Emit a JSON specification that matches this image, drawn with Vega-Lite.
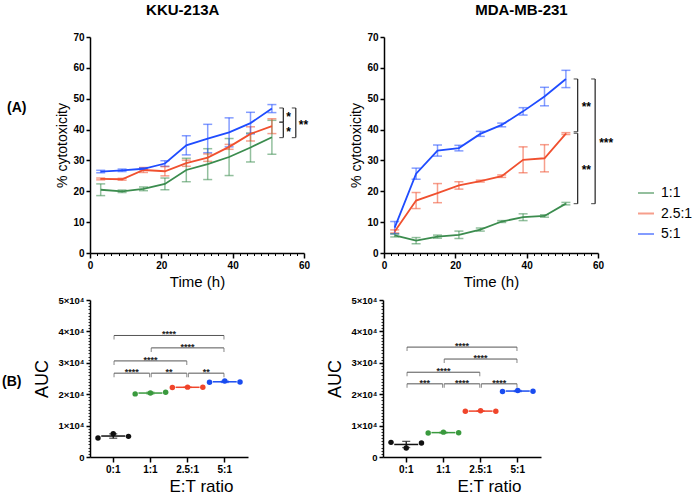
{
  "$schema": "https://vega.github.io/schema/vega-lite/v6.json",
  "background": "white",
  "padding": {"left": 2, "top": 3, "right": 0, "bottom": 8},
  "config": {
    "font": "Liberation Sans",
    "view": {"stroke": null},
    "axis": {
      "grid": false,
      "domainColor": "#000000",
      "domainWidth": 1.5,
      "tickColor": "#000000",
      "tickWidth": 1.5,
      "labelColor": "#000000",
      "labelFont": "Liberation Sans",
      "labelFontWeight": "bold",
      "titleColor": "#000000",
      "titleFont": "Liberation Sans",
      "titleFontWeight": "normal"
    },
    "title": {"font": "Liberation Sans", "color": "#000000"}
  },
  "datasets": {
    "kku": [
      {"t": 3, "ratio": "1:1", "mean": 20.5, "sd": 1.9},
      {"t": 9, "ratio": "1:1", "mean": 20.0, "sd": 0.4},
      {"t": 15, "ratio": "1:1", "mean": 20.8, "sd": 0.6},
      {"t": 21, "ratio": "1:1", "mean": 22.4, "sd": 1.9},
      {"t": 27, "ratio": "1:1", "mean": 26.9, "sd": 3.8},
      {"t": 33, "ratio": "1:1", "mean": 28.8, "sd": 5.0},
      {"t": 39, "ratio": "1:1", "mean": 31.1, "sd": 6.0},
      {"t": 45, "ratio": "1:1", "mean": 34.2, "sd": 4.7},
      {"t": 51, "ratio": "1:1", "mean": 37.5, "sd": 5.5},
      {"t": 3, "ratio": "2.5:1", "mean": 24.0, "sd": 0.3},
      {"t": 9, "ratio": "2.5:1", "mean": 23.9, "sd": 0.3},
      {"t": 15, "ratio": "2.5:1", "mean": 26.9, "sd": 0.8},
      {"t": 21, "ratio": "2.5:1", "mean": 26.5, "sd": 1.5},
      {"t": 27, "ratio": "2.5:1", "mean": 29.1, "sd": 1.0},
      {"t": 33, "ratio": "2.5:1", "mean": 30.9, "sd": 1.2},
      {"t": 39, "ratio": "2.5:1", "mean": 34.4, "sd": 0.8},
      {"t": 45, "ratio": "2.5:1", "mean": 38.6, "sd": 2.3},
      {"t": 51, "ratio": "2.5:1", "mean": 41.1, "sd": 2.4},
      {"t": 3, "ratio": "5:1", "mean": 26.4, "sd": 0.4},
      {"t": 9, "ratio": "5:1", "mean": 26.8, "sd": 0.4},
      {"t": 15, "ratio": "5:1", "mean": 27.3, "sd": 0.3},
      {"t": 21, "ratio": "5:1", "mean": 29.0, "sd": 0.9},
      {"t": 27, "ratio": "5:1", "mean": 34.9, "sd": 3.1},
      {"t": 33, "ratio": "5:1", "mean": 37.1, "sd": 4.6},
      {"t": 39, "ratio": "5:1", "mean": 39.1, "sd": 4.7},
      {"t": 45, "ratio": "5:1", "mean": 42.1, "sd": 3.5},
      {"t": 51, "ratio": "5:1", "mean": 46.8, "sd": 1.3}
    ],
    "mda": [
      {"t": 3, "ratio": "1:1", "mean": 5.7, "sd": 0.5},
      {"t": 9, "ratio": "1:1", "mean": 4.0, "sd": 1.0},
      {"t": 15, "ratio": "1:1", "mean": 5.3, "sd": 0.5},
      {"t": 21, "ratio": "1:1", "mean": 5.9, "sd": 1.2},
      {"t": 27, "ratio": "1:1", "mean": 7.6, "sd": 0.5},
      {"t": 33, "ratio": "1:1", "mean": 10.2, "sd": 0.3},
      {"t": 39, "ratio": "1:1", "mean": 11.6, "sd": 1.1},
      {"t": 45, "ratio": "1:1", "mean": 12.0, "sd": 0.4},
      {"t": 51, "ratio": "1:1", "mean": 16.0, "sd": 0.4},
      {"t": 3, "ratio": "2.5:1", "mean": 7.0, "sd": 0.5},
      {"t": 9, "ratio": "2.5:1", "mean": 17.0, "sd": 2.6},
      {"t": 15, "ratio": "2.5:1", "mean": 19.4, "sd": 3.1},
      {"t": 21, "ratio": "2.5:1", "mean": 21.9, "sd": 1.2},
      {"t": 27, "ratio": "2.5:1", "mean": 23.3, "sd": 0.3},
      {"t": 33, "ratio": "2.5:1", "mean": 24.9, "sd": 0.4},
      {"t": 39, "ratio": "2.5:1", "mean": 30.2, "sd": 4.2},
      {"t": 45, "ratio": "2.5:1", "mean": 30.7, "sd": 4.4},
      {"t": 51, "ratio": "2.5:1", "mean": 38.7, "sd": 0.3},
      {"t": 3, "ratio": "5:1", "mean": 8.2, "sd": 2.0},
      {"t": 9, "ratio": "5:1", "mean": 25.7, "sd": 1.8},
      {"t": 15, "ratio": "5:1", "mean": 33.2, "sd": 1.8},
      {"t": 21, "ratio": "5:1", "mean": 34.0, "sd": 0.9},
      {"t": 27, "ratio": "5:1", "mean": 38.6, "sd": 0.8},
      {"t": 33, "ratio": "5:1", "mean": 41.5, "sd": 0.6},
      {"t": 39, "ratio": "5:1", "mean": 45.9, "sd": 1.2},
      {"t": 45, "ratio": "5:1", "mean": 50.7, "sd": 3.0},
      {"t": 51, "ratio": "5:1", "mean": 56.4, "sd": 2.8}
    ],
    "kku_sig": [
      {"t": 54.2, "top": 47.0, "bottom": 42.4, "label": "*"},
      {"t": 54.2, "top": 42.4, "bottom": 37.4, "label": "*"},
      {"t": 57.7, "top": 47.0, "bottom": 37.4, "label": "**"}
    ],
    "mda_sig": [
      {"t": 54.3, "top": 56.4, "bottom": 39.3, "label": "**"},
      {"t": 54.3, "top": 38.8, "bottom": 16.0, "label": "**"},
      {"t": 59.2, "top": 56.4, "bottom": 16.0, "label": "***"}
    ],
    "auc_kku": [
      {"ratio": "0:1", "rep": 1, "auc": 6040},
      {"ratio": "0:1", "rep": 2, "auc": 7420},
      {"ratio": "0:1", "rep": 3, "auc": 6570},
      {"ratio": "1:1", "rep": 1, "auc": 20100},
      {"ratio": "1:1", "rep": 2, "auc": 20350},
      {"ratio": "1:1", "rep": 3, "auc": 20650},
      {"ratio": "2.5:1", "rep": 1, "auc": 22150},
      {"ratio": "2.5:1", "rep": 2, "auc": 22250},
      {"ratio": "2.5:1", "rep": 3, "auc": 22200},
      {"ratio": "5:1", "rep": 1, "auc": 23800},
      {"ratio": "5:1", "rep": 2, "auc": 24200},
      {"ratio": "5:1", "rep": 3, "auc": 23850}
    ],
    "auc_mda": [
      {"ratio": "0:1", "rep": 1, "auc": 4660},
      {"ratio": "0:1", "rep": 2, "auc": 2860},
      {"ratio": "0:1", "rep": 3, "auc": 4450},
      {"ratio": "1:1", "rep": 1, "auc": 7640},
      {"ratio": "1:1", "rep": 2, "auc": 7920},
      {"ratio": "1:1", "rep": 3, "auc": 7730},
      {"ratio": "2.5:1", "rep": 1, "auc": 14550},
      {"ratio": "2.5:1", "rep": 2, "auc": 14700},
      {"ratio": "2.5:1", "rep": 3, "auc": 14600},
      {"ratio": "5:1", "rep": 1, "auc": 20850},
      {"ratio": "5:1", "rep": 2, "auc": 21200},
      {"ratio": "5:1", "rep": 3, "auc": 20950}
    ],
    "auc_kku_sig": [
      {"from": "0:1", "to": "5:1", "level": 38700, "label": "****"},
      {"from": "1:1", "to": "5:1", "level": 34750, "label": "****"},
      {"from": "0:1", "to": "2.5:1", "level": 30600, "label": "****"},
      {"from": "0:1", "to": "1:1", "level": 26700, "label": "****"},
      {"from": "1:1", "to": "2.5:1", "level": 26700, "label": "**"},
      {"from": "2.5:1", "to": "5:1", "level": 26700, "label": "**"}
    ],
    "auc_mda_sig": [
      {"from": "0:1", "to": "5:1", "level": 35000, "label": "****"},
      {"from": "1:1", "to": "5:1", "level": 31200, "label": "****"},
      {"from": "0:1", "to": "2.5:1", "level": 27000, "label": "****"},
      {"from": "0:1", "to": "1:1", "level": 23300, "label": "***"},
      {"from": "1:1", "to": "2.5:1", "level": 23300, "label": "****"},
      {"from": "2.5:1", "to": "5:1", "level": 23300, "label": "****"}
    ]
  },
  "spacing": 6,
  "resolve": {"scale": {"color": "independent"}, "legend": {"color": "independent"}},
  "vconcat": [
    {
      "title": {"text": "(A)", "orient": "left", "angle": 0, "align": "right", "baseline": "middle", "anchor": "middle", "fontSize": 14, "fontWeight": "bold", "offset": 10, "dy": -38},
      "bounds": "flush",
      "spacing": 80,
      "resolve": {"legend": {"color": "independent"}},
      "hconcat": [
        {
          "title": {"text": "KKU-213A", "fontSize": 15, "fontWeight": "bold", "frame": "bounds", "offset": 14},
          "width": 214,
          "height": 216,
          "resolve": {"axis": {"x": "independent", "y": "independent"}},
          "layer": [
            {
              "data": {"name": "kku"},
              "mark": {"type": "errorbar", "ticks": {"size": 9}, "thickness": 1.5, "opacity": 0.55},
              "encoding": {
                "x": {"field": "t", "type": "quantitative", "scale": {"domain": [0, 60], "nice": false}, "axis": null},
                "y": {"field": "mean", "type": "quantitative", "scale": {"domain": [0, 70], "nice": false}, "axis": null},
                "yError": {"field": "sd"},
                "color": {"field": "ratio", "type": "nominal", "scale": {"domain": ["1:1", "2.5:1", "5:1"], "range": ["#3b8c4e", "#f0502f", "#1f4cff"]}, "legend": null}
              }
            },
            {
              "data": {"name": "kku"},
              "mark": {"type": "line", "strokeWidth": 1.8},
              "encoding": {
                "x": {"field": "t", "type": "quantitative", "scale": {"domain": [0, 60], "nice": false},
                      "axis": {"orient": "bottom", "tickCount": 30, "labelExpr": "datum.value % 20 === 0 ? datum.label : ''", "labelOverlap": false, "labelFlush": false,
                               "tickSize": {"condition": {"test": "datum.value % 20 === 0", "value": 5}, "value": 2.5},
                               "tickWidth": {"condition": {"test": "datum.value % 20 === 0", "value": 1.5}, "value": 1},
                               "title": "Time (h)", "titleFontSize": 15, "labelFontSize": 10, "titlePadding": 4}},
                "y": {"field": "mean", "type": "quantitative", "scale": {"domain": [0, 70], "nice": false},
                      "axis": {"orient": "left", "values": [0, 10, 20, 30, 40, 50, 60, 70], "title": "% cytotoxicity", "titleFontSize": 14, "labelFontSize": 10, "tickSize": 4, "titlePadding": 3}},
                "color": {"field": "ratio", "type": "nominal", "scale": {"domain": ["1:1", "2.5:1", "5:1"], "range": ["#3b8c4e", "#f0502f", "#1f4cff"]}, "legend": null}
              }
            },
            {
              "data": {"name": "kku_sig"},
              "mark": {"type": "rule", "color": "#222222", "strokeWidth": 1.2},
              "encoding": {
                "x": {"field": "t", "type": "quantitative", "scale": {"domain": [0, 60], "nice": false}, "axis": null},
                "y": {"field": "top", "type": "quantitative", "scale": {"domain": [0, 70], "nice": false}, "axis": null},
                "y2": {"field": "bottom"}
              }
            },
            {
              "data": {"name": "kku_sig"},
              "mark": {"type": "tick", "orient": "horizontal", "size": 4, "thickness": 1.2, "xOffset": -2, "color": "#222222"},
              "encoding": {
                "x": {"field": "t", "type": "quantitative", "scale": {"domain": [0, 60], "nice": false}, "axis": null},
                "y": {"field": "top", "type": "quantitative", "scale": {"domain": [0, 70], "nice": false}, "axis": null}
              }
            },
            {
              "data": {"name": "kku_sig"},
              "mark": {"type": "tick", "orient": "horizontal", "size": 4, "thickness": 1.2, "xOffset": -2, "color": "#222222"},
              "encoding": {
                "x": {"field": "t", "type": "quantitative", "scale": {"domain": [0, 60], "nice": false}, "axis": null},
                "y": {"field": "bottom", "type": "quantitative", "scale": {"domain": [0, 70], "nice": false}, "axis": null}
              }
            },
            {
              "data": {"name": "kku_sig"},
              "transform": [{"calculate": "(datum.top + datum.bottom) / 2", "as": "mid"}],
              "mark": {"type": "text", "align": "left", "baseline": "alphabetic", "dx": 3, "dy": 6, "fontSize": 12, "fontWeight": "bold", "color": "#000000"},
              "encoding": {
                "x": {"field": "t", "type": "quantitative", "scale": {"domain": [0, 60], "nice": false}, "axis": null},
                "y": {"field": "mid", "type": "quantitative", "scale": {"domain": [0, 70], "nice": false}, "axis": null},
                "text": {"field": "label"}
              }
            }
          ]
        },
        {
          "title": {"text": "MDA-MB-231", "fontSize": 15, "fontWeight": "bold", "frame": "bounds", "offset": 14},
          "width": 214,
          "height": 216,
          "resolve": {"axis": {"x": "independent", "y": "independent"}},
          "layer": [
            {
              "data": {"name": "mda"},
              "mark": {"type": "errorbar", "ticks": {"size": 9}, "thickness": 1.5, "opacity": 0.55},
              "encoding": {
                "x": {"field": "t", "type": "quantitative", "scale": {"domain": [0, 60], "nice": false}, "axis": null},
                "y": {"field": "mean", "type": "quantitative", "scale": {"domain": [0, 70], "nice": false}, "axis": null},
                "yError": {"field": "sd"},
                "color": {"field": "ratio", "type": "nominal", "scale": {"domain": ["1:1", "2.5:1", "5:1"], "range": ["#3b8c4e", "#f0502f", "#1f4cff"]}}
              }
            },
            {
              "data": {"name": "mda"},
              "mark": {"type": "line", "strokeWidth": 1.8},
              "encoding": {
                "x": {"field": "t", "type": "quantitative", "scale": {"domain": [0, 60], "nice": false},
                      "axis": {"orient": "bottom", "tickCount": 30, "labelExpr": "datum.value % 20 === 0 ? datum.label : ''", "labelOverlap": false, "labelFlush": false,
                               "tickSize": {"condition": {"test": "datum.value % 20 === 0", "value": 5}, "value": 2.5},
                               "tickWidth": {"condition": {"test": "datum.value % 20 === 0", "value": 1.5}, "value": 1},
                               "title": "Time (h)", "titleFontSize": 15, "labelFontSize": 10, "titlePadding": 4}},
                "y": {"field": "mean", "type": "quantitative", "scale": {"domain": [0, 70], "nice": false},
                      "axis": {"orient": "left", "values": [0, 10, 20, 30, 40, 50, 60, 70], "title": "% cytotoxicity", "titleFontSize": 14, "labelFontSize": 10, "tickSize": 4, "titlePadding": 3}},
                "color": {"field": "ratio", "type": "nominal", "scale": {"domain": ["1:1", "2.5:1", "5:1"], "range": ["#3b8c4e", "#f0502f", "#1f4cff"]},
                          "legend": {"orient": "none", "legendX": 253, "legendY": 147, "title": null, "padding": 0, "symbolType": "stroke", "symbolStrokeWidth": 2, "symbolSize": 256, "symbolOpacity": 1, "labelFontSize": 14, "labelFont": "Liberation Sans", "labelColor": "#000000", "labelOffset": 6, "rowPadding": 4.5}}
              }
            },
            {
              "data": {"name": "mda_sig"},
              "mark": {"type": "rule", "color": "#222222", "strokeWidth": 1.2},
              "encoding": {
                "x": {"field": "t", "type": "quantitative", "scale": {"domain": [0, 60], "nice": false}, "axis": null},
                "y": {"field": "top", "type": "quantitative", "scale": {"domain": [0, 70], "nice": false}, "axis": null},
                "y2": {"field": "bottom"}
              }
            },
            {
              "data": {"name": "mda_sig"},
              "mark": {"type": "tick", "orient": "horizontal", "size": 4, "thickness": 1.2, "xOffset": -2, "color": "#222222"},
              "encoding": {
                "x": {"field": "t", "type": "quantitative", "scale": {"domain": [0, 60], "nice": false}, "axis": null},
                "y": {"field": "top", "type": "quantitative", "scale": {"domain": [0, 70], "nice": false}, "axis": null}
              }
            },
            {
              "data": {"name": "mda_sig"},
              "mark": {"type": "tick", "orient": "horizontal", "size": 4, "thickness": 1.2, "xOffset": -2, "color": "#222222"},
              "encoding": {
                "x": {"field": "t", "type": "quantitative", "scale": {"domain": [0, 60], "nice": false}, "axis": null},
                "y": {"field": "bottom", "type": "quantitative", "scale": {"domain": [0, 70], "nice": false}, "axis": null}
              }
            },
            {
              "data": {"name": "mda_sig"},
              "transform": [{"calculate": "(datum.top + datum.bottom) / 2", "as": "mid"}],
              "mark": {"type": "text", "align": "left", "baseline": "alphabetic", "dx": 4, "dy": 6, "fontSize": 12, "fontWeight": "bold", "color": "#000000"},
              "encoding": {
                "x": {"field": "t", "type": "quantitative", "scale": {"domain": [0, 60], "nice": false}, "axis": null},
                "y": {"field": "mid", "type": "quantitative", "scale": {"domain": [0, 70], "nice": false}, "axis": null},
                "text": {"field": "label"}
              }
            }
          ]
        }
      ]
    },
    {
      "title": {"text": "(B)", "orient": "left", "angle": 0, "align": "right", "baseline": "middle", "anchor": "middle", "fontSize": 14, "fontWeight": "bold", "offset": -7, "dy": -13},
      "bounds": "flush",
      "spacing": 135,
      "hconcat": [
        {
          "width": 158,
          "height": 157,
          "resolve": {"scale": {"x": "independent"}, "axis": {"x": "independent", "y": "independent"}},
          "layer": [
            {
              "data": {"name": "auc_kku"},
              "encoding": {
                "x": {"field": "ratio", "type": "nominal", "sort": null,
                      "scale": {"domain": ["0:1", "1:1", "2.5:1", "5:1"], "paddingInner": 0.18, "paddingOuter": 0.215},
                      "axis": {"orient": "bottom", "title": "E:T ratio", "titleFontSize": 17, "titleX": 111, "titleY": 21, "labelFontSize": 10, "labelAngle": 0, "tickSize": 5, "labelPadding": 2}},
                "y": {"field": "auc", "type": "quantitative", "scale": {"domain": [0, 50000], "nice": false},
                      "axis": {"orient": "left", "tickCount": 50, "labelOverlap": false,
                               "labelExpr": "datum.value === 0 ? '0' : (datum.value % 10000 === 0 ? format(datum.value / 10000, 'd') + '×10⁴' : '')",
                               "tickSize": {"condition": {"test": "datum.value % 10000 === 0", "value": 4}, "value": 2},
                               "tickWidth": {"condition": {"test": "datum.value % 10000 === 0", "value": 1.5}, "value": 0.8},
                               "title": "AUC", "titleFontSize": 18, "labelFontSize": 9.5, "titlePadding": 6}},
                "color": {"field": "ratio", "type": "nominal", "scale": {"domain": ["0:1", "1:1", "2.5:1", "5:1"], "range": ["#111111", "#3a9a3e", "#f0452b", "#1a4cf0"]}, "legend": null}
              },
              "layer": [
                {
                  "mark": {"type": "circle", "size": 30, "opacity": 1},
                  "encoding": {"xOffset": {"field": "rep", "type": "nominal", "scale": {"paddingInner": 0, "paddingOuter": 0}}}
                },
                {
                  "mark": {"type": "tick", "size": 24, "thickness": 1.5},
                  "encoding": {"y": {"aggregate": "mean", "field": "auc", "type": "quantitative", "scale": {"domain": [0, 50000], "nice": false}, "axis": null}}
                },
                {
                  "mark": {"type": "errorbar", "extent": "stdev", "ticks": {"size": 8}, "thickness": 1.3},
                  "encoding": {"y": {"field": "auc", "type": "quantitative", "scale": {"domain": [0, 50000], "nice": false}, "axis": null}}
                }
              ],
              "resolve": {"axis": {"y": "independent"}}
            },
            {
              "data": {"name": "auc_kku_sig"},
              "transform": [
                {"calculate": "indexof(['0:1', '1:1', '2.5:1', '5:1'], datum.from)", "as": "fi"},
                {"calculate": "indexof(['0:1', '1:1', '2.5:1', '5:1'], datum.to)", "as": "ti"},
                {"calculate": "(datum.fi + datum.ti) / 2", "as": "mid"}
              ],
              "encoding": {
                "y": {"field": "level", "type": "quantitative", "scale": {"domain": [0, 50000], "nice": false}, "axis": null}
              },
              "layer": [
                {
                  "mark": {"type": "rule", "color": "#555555", "strokeWidth": 1, "xOffset": 0.8, "x2Offset": -0.8},
                  "encoding": {
                    "x": {"field": "fi", "type": "quantitative", "scale": {"domain": [-0.625, 3.625], "nice": false, "zero": false}, "axis": null},
                    "x2": {"field": "ti"}
                  }
                },
                {
                  "mark": {"type": "tick", "orient": "vertical", "size": 4, "thickness": 1, "xOffset": 0.8, "yOffset": 2, "color": "#555555"},
                  "encoding": {"x": {"field": "fi", "type": "quantitative", "scale": {"domain": [-0.625, 3.625], "nice": false, "zero": false}, "axis": null}}
                },
                {
                  "mark": {"type": "tick", "orient": "vertical", "size": 4, "thickness": 1, "xOffset": -0.8, "yOffset": 2, "color": "#555555"},
                  "encoding": {"x": {"field": "ti", "type": "quantitative", "scale": {"domain": [-0.625, 3.625], "nice": false, "zero": false}, "axis": null}}
                },
                {
                  "mark": {"type": "text", "baseline": "alphabetic", "dy": 2, "fontSize": 9, "fontWeight": "bold", "color": "#222222"},
                  "encoding": {
                    "x": {"field": "mid", "type": "quantitative", "scale": {"domain": [-0.625, 3.625], "nice": false, "zero": false}, "axis": null},
                    "text": {"field": "label"}
                  }
                }
              ]
            }
          ]
        },
        {
          "width": 158,
          "height": 157,
          "resolve": {"scale": {"x": "independent"}, "axis": {"x": "independent", "y": "independent"}},
          "layer": [
            {
              "data": {"name": "auc_mda"},
              "encoding": {
                "x": {"field": "ratio", "type": "nominal", "sort": null,
                      "scale": {"domain": ["0:1", "1:1", "2.5:1", "5:1"], "paddingInner": 0.18, "paddingOuter": 0.215},
                      "axis": {"orient": "bottom", "title": "E:T ratio", "titleFontSize": 17, "titleX": 106, "titleY": 21, "labelFontSize": 10, "labelAngle": 0, "tickSize": 5, "labelPadding": 2}},
                "y": {"field": "auc", "type": "quantitative", "scale": {"domain": [0, 50000], "nice": false},
                      "axis": {"orient": "left", "tickCount": 50, "labelOverlap": false,
                               "labelExpr": "datum.value === 0 ? '0' : (datum.value % 10000 === 0 ? format(datum.value / 10000, 'd') + '×10⁴' : '')",
                               "tickSize": {"condition": {"test": "datum.value % 10000 === 0", "value": 4}, "value": 2},
                               "tickWidth": {"condition": {"test": "datum.value % 10000 === 0", "value": 1.5}, "value": 0.8},
                               "title": "AUC", "titleFontSize": 18, "labelFontSize": 9.5, "titlePadding": 6}},
                "color": {"field": "ratio", "type": "nominal", "scale": {"domain": ["0:1", "1:1", "2.5:1", "5:1"], "range": ["#111111", "#3a9a3e", "#f0452b", "#1a4cf0"]}, "legend": null}
              },
              "layer": [
                {
                  "mark": {"type": "circle", "size": 30, "opacity": 1},
                  "encoding": {"xOffset": {"field": "rep", "type": "nominal", "scale": {"paddingInner": 0, "paddingOuter": 0}}}
                },
                {
                  "mark": {"type": "tick", "size": 24, "thickness": 1.5},
                  "encoding": {"y": {"aggregate": "mean", "field": "auc", "type": "quantitative", "scale": {"domain": [0, 50000], "nice": false}, "axis": null}}
                },
                {
                  "mark": {"type": "errorbar", "extent": "stdev", "ticks": {"size": 8}, "thickness": 1.3},
                  "encoding": {"y": {"field": "auc", "type": "quantitative", "scale": {"domain": [0, 50000], "nice": false}, "axis": null}}
                }
              ],
              "resolve": {"axis": {"y": "independent"}}
            },
            {
              "data": {"name": "auc_mda_sig"},
              "transform": [
                {"calculate": "indexof(['0:1', '1:1', '2.5:1', '5:1'], datum.from)", "as": "fi"},
                {"calculate": "indexof(['0:1', '1:1', '2.5:1', '5:1'], datum.to)", "as": "ti"},
                {"calculate": "(datum.fi + datum.ti) / 2", "as": "mid"}
              ],
              "encoding": {
                "y": {"field": "level", "type": "quantitative", "scale": {"domain": [0, 50000], "nice": false}, "axis": null}
              },
              "layer": [
                {
                  "mark": {"type": "rule", "color": "#555555", "strokeWidth": 1, "xOffset": 0.8, "x2Offset": -0.8},
                  "encoding": {
                    "x": {"field": "fi", "type": "quantitative", "scale": {"domain": [-0.625, 3.625], "nice": false, "zero": false}, "axis": null},
                    "x2": {"field": "ti"}
                  }
                },
                {
                  "mark": {"type": "tick", "orient": "vertical", "size": 4, "thickness": 1, "xOffset": 0.8, "yOffset": 2, "color": "#555555"},
                  "encoding": {"x": {"field": "fi", "type": "quantitative", "scale": {"domain": [-0.625, 3.625], "nice": false, "zero": false}, "axis": null}}
                },
                {
                  "mark": {"type": "tick", "orient": "vertical", "size": 4, "thickness": 1, "xOffset": -0.8, "yOffset": 2, "color": "#555555"},
                  "encoding": {"x": {"field": "ti", "type": "quantitative", "scale": {"domain": [-0.625, 3.625], "nice": false, "zero": false}, "axis": null}}
                },
                {
                  "mark": {"type": "text", "baseline": "alphabetic", "dy": 2, "fontSize": 9, "fontWeight": "bold", "color": "#222222"},
                  "encoding": {
                    "x": {"field": "mid", "type": "quantitative", "scale": {"domain": [-0.625, 3.625], "nice": false, "zero": false}, "axis": null},
                    "text": {"field": "label"}
                  }
                }
              ]
            }
          ]
        }
      ]
    }
  ]
}
